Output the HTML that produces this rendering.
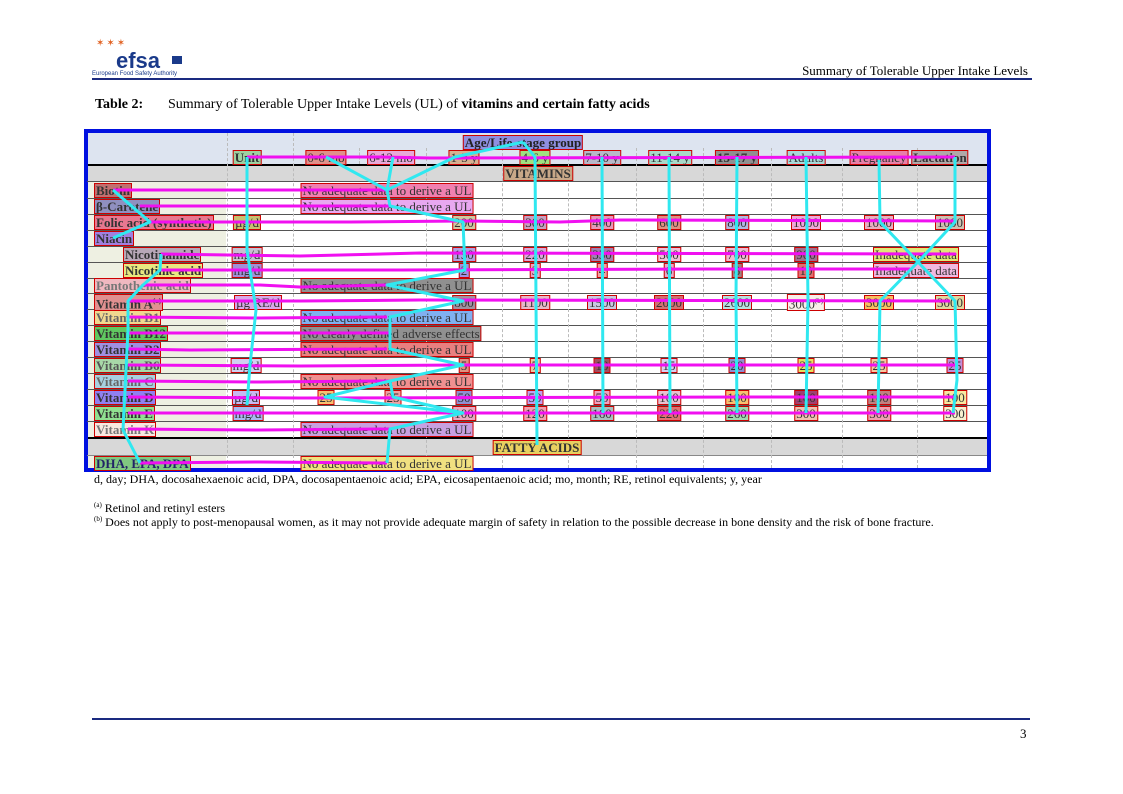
<!DOCTYPE html>
<html><head><meta charset="utf-8">
<style>
body{margin:0;width:1123px;height:794px;position:relative;background:#fff;font-family:"Liberation Serif",serif;overflow:hidden}
.a{position:absolute}
.b{position:absolute;border:1px solid #c00;font-size:13px;line-height:13px;padding:0 1px;white-space:nowrap;color:#333;transform:translateX(-50%)}
.n{position:absolute;border:1px solid #c00;font-size:13px;line-height:13px;padding:0 1px;white-space:nowrap;font-weight:bold;color:#333}
.h{position:absolute;left:87px;width:900px;height:1px;background:#555}
.v{position:absolute;top:133px;height:335px;border-left:1px dashed #bbb}
</style></head><body>
<!-- header -->
<div class="a" style="left:92px;top:38px;width:90px;height:40px">
 <div class="a" style="left:4px;top:0;color:#e06020;font-size:10px;letter-spacing:2px">✶✶✶</div>
 <div class="a" style="left:24px;top:10px;color:#1a3a8a;font:bold 22px 'Liberation Sans',sans-serif">efsa</div>
 <div class="a" style="left:80px;top:18px;width:10px;height:8px;background:#1a3a8a"></div>
 <div class="a" style="left:0;top:33px;font:6px 'Liberation Sans',sans-serif;color:#1a3a8a">European Food Safety Authority</div>
</div>
<div class="a" style="left:92px;top:78px;width:940px;height:2px;background:#1a2a80"></div>
<div class="a" style="right:95px;top:63px;font-size:13px">Summary of Tolerable Upper Intake Levels</div>
<div class="a" style="left:95px;top:97px;font-size:14px"><b>Table 2:</b></div>
<div class="a" style="left:168px;top:97px;font-size:14px">Summary of Tolerable Upper Intake Levels (UL) of <b>vitamins and certain fatty acids</b></div>

<!-- table -->
<div class="a" style="left:84px;top:129px;width:899px;height:335px;border:4px solid #0010e0"></div>
<div class="a" style="left:88px;top:133px;width:899px;height:31px;background:#dde4f0"></div>
<div class="a" style="left:88px;top:164px;width:899px;height:2px;background:#000"></div>
<div class="a" style="left:88px;top:166px;width:899px;height:15px;background:#d8d8d8"></div>
<div class="a" style="left:88px;top:181px;width:138px;height:257px;background:#eef0e2"></div>
<div class="a" style="left:88px;top:455px;width:138px;height:13px;background:#eef0e2"></div>
<div class="a" style="left:88px;top:438px;width:899px;height:17px;background:#d8d8d8"></div>
<div class="a" style="left:88px;top:437px;width:899px;height:2px;background:#000"></div>
<div class="h" style="top:181px"></div><div class="h" style="top:198px"></div><div class="h" style="top:214px"></div><div class="h" style="top:230px"></div><div class="h" style="top:246px"></div><div class="h" style="top:262px"></div><div class="h" style="top:278px"></div><div class="h" style="top:293px"></div><div class="h" style="top:309px"></div><div class="h" style="top:325px"></div><div class="h" style="top:341px"></div><div class="h" style="top:357px"></div><div class="h" style="top:373px"></div><div class="h" style="top:389px"></div><div class="h" style="top:405px"></div><div class="h" style="top:421px"></div><div class="h" style="top:455px;background:#888"></div>
<div class="v" style="left:227px"></div><div class="v" style="left:293px"></div><div class="v" style="left:359px;top:148px;height:16px"></div><div class="v" style="left:426px;top:148px;height:320px"></div><div class="v" style="left:502px;top:148px;height:320px"></div><div class="v" style="left:568px;top:148px;height:320px"></div><div class="v" style="left:636px;top:148px;height:320px"></div><div class="v" style="left:703px;top:148px;height:320px"></div><div class="v" style="left:771px;top:148px;height:320px"></div><div class="v" style="left:842px;top:148px;height:320px"></div><div class="v" style="left:917px;top:148px;height:320px"></div>

<!-- header labels -->
<div class="b" style="left:523px;top:135px;background:#8f8fe0;font-weight:bold;color:#222">Age/Life-stage group</div>
<div class="b" style="left:247px;top:150px;background:#9ed0a0;font-weight:bold">Unit</div>
<div class="b" style="left:326px;top:150px;background:#e0908a">0-6 mo</div>
<div class="b" style="left:391px;top:150px;background:#e8a8d8">6-12 mo</div>
<div class="b" style="left:464px;top:150px;background:#d8b090">1-3 y</div>
<div class="b" style="left:535px;top:150px;background:#a0e080">4-6 y</div>
<div class="b" style="left:602px;top:150px;background:#b8b8c8">7-10 y</div>
<div class="b" style="left:670px;top:150px;background:#a8d8c8">11-14 y</div>
<div class="b" style="left:737px;top:150px;background:#909090;font-weight:bold">15-17 y</div>
<div class="b" style="left:806px;top:150px;background:#a8d8d8">Adults</div>
<div class="b" style="left:879px;top:150px;background:#e880a8">Pregnancy</div>
<div class="b" style="left:940px;top:150px;background:#b0a8a8;font-weight:bold">Lactation</div>
<div class="b" style="left:538px;top:166px;background:#c8a888;font-weight:bold">VITAMINS</div>
<div class="b" style="left:537px;top:440px;background:#e8d060;font-weight:bold">FATTY ACIDS</div>

<!-- names -->
<div class="n" style="left:94px;top:183px;background:#c07070">Biotin</div>
<div class="n" style="left:94px;top:199px;background:#9090c0">β-Carotene</div>
<div class="n" style="left:94px;top:215px;background:#e87890">Folic acid (synthetic)</div>
<div class="n" style="left:94px;top:231px;background:#a080e0">Niacin</div>
<div class="n" style="left:123px;top:247px;background:#b8a8b8">Nicotinamide</div>
<div class="n" style="left:123px;top:263px;background:#e8e880">Nicotinic acid</div>
<div class="n" style="left:94px;top:278px;background:#f0b8c0;color:#777">Pantothenic acid</div>
<div class="n" style="left:94px;top:294px;background:#e09090">Vitamin A<sup style="font-size:7px">(a)</sup></div>
<div class="n" style="left:94px;top:310px;background:#f0d890;color:#666">Vitamin B1</div>
<div class="n" style="left:94px;top:326px;background:#60c860">Vitamin B12</div>
<div class="n" style="left:94px;top:342px;background:#a090e0">Vitamin B2</div>
<div class="n" style="left:94px;top:358px;background:#a8d8a8;color:#555">Vitamin B6</div>
<div class="n" style="left:94px;top:374px;background:#a8d0e0;color:#666">Vitamin C</div>
<div class="n" style="left:94px;top:390px;background:#9080f0">Vitamin D</div>
<div class="n" style="left:94px;top:406px;background:#90e090">Vitamin E</div>
<div class="n" style="left:94px;top:422px;background:#f8e8e0;color:#777">Vitamin K</div>
<div class="n" style="left:94px;top:456px;background:#80c880;color:#226">DHA, EPA, DPA</div>

<!-- no adequate boxes -->
<div class="b" style="left:387px;top:183px;background:#f080b0">No adequate data to derive a UL</div>
<div class="b" style="left:387px;top:199px;background:#e8a8f0">No adequate data to derive a UL</div>
<div class="b" style="left:387px;top:278px;background:#909090">No adequate data to derive a UL</div>
<div class="b" style="left:387px;top:310px;background:#80b0f0">No adequate data to derive a UL</div>
<div class="b" style="left:391px;top:326px;background:#909090">No clearly defined adverse effects</div>
<div class="b" style="left:387px;top:342px;background:#e88080">No adequate data to derive a UL</div>
<div class="b" style="left:387px;top:374px;background:#f09090">No adequate data to derive a UL</div>
<div class="b" style="left:387px;top:422px;background:#c8a0e0">No adequate data to derive a UL</div>
<div class="b" style="left:387px;top:456px;background:#f0e080">No adequate data to derive a UL</div>

<!-- units -->
<div class="b" style="left:247px;top:215px;background:#c8c070">µg/d</div>
<div class="b" style="left:247px;top:247px;background:#c8c0d0">mg/d</div>
<div class="b" style="left:247px;top:263px;background:#a090d8">mg/d</div>
<div class="b" style="left:258px;top:295px;background:#d8a8e8">µg RE/d</div>
<div class="b" style="left:246px;top:358px;background:#d0d0f0">mg/d</div>
<div class="b" style="left:246px;top:390px;background:#c8b8f0">µg/d</div>
<div class="b" style="left:248px;top:406px;background:#a8b8f0">mg/d</div>

<!-- values -->
<div class="b" style="left:464px;top:215px;background:#d0c8a0">200</div><div class="b" style="left:535px;top:215px;background:#c8a0c0">300</div><div class="b" style="left:602px;top:215px;background:#e898b8">400</div><div class="b" style="left:669px;top:215px;background:#e09080">600</div><div class="b" style="left:737px;top:215px;background:#b0b8e0">800</div><div class="b" style="left:806px;top:215px;background:#f0a8d8">1000</div><div class="b" style="left:879px;top:215px;background:#e8b0c0">1000</div><div class="b" style="left:950px;top:215px;background:#d0c0b0">1000</div>
<div class="b" style="left:464px;top:247px;background:#b0a0e0">150</div><div class="b" style="left:535px;top:247px;background:#d8a8d8">220</div><div class="b" style="left:602px;top:247px;background:#a080b0">350</div><div class="b" style="left:669px;top:247px;background:#f0c0d8">500</div><div class="b" style="left:737px;top:247px;background:#f0b8d0">700</div><div class="b" style="left:806px;top:247px;background:#a07090">900</div><div class="b" style="left:916px;top:247px;background:#e0e878">Inadequate data</div>
<div class="b" style="left:464px;top:263px;background:#a090e0">2</div><div class="b" style="left:535px;top:263px;background:#f0a0c0">3</div><div class="b" style="left:602px;top:263px;background:#f0a0a0">4</div><div class="b" style="left:669px;top:263px;background:#e8a8c8">6</div><div class="b" style="left:737px;top:263px;background:#a08080">8</div><div class="b" style="left:806px;top:263px;background:#e07070">10</div><div class="b" style="left:916px;top:263px;background:#f0b8e0">Inadequate data</div>
<div class="b" style="left:464px;top:295px;background:#a090a0">800</div><div class="b" style="left:535px;top:295px;background:#e8b8c8">1100</div><div class="b" style="left:602px;top:295px;background:#c8c8e0">1500</div><div class="b" style="left:669px;top:295px;background:#d07070">2000</div><div class="b" style="left:737px;top:295px;background:#b8e0e0">2600</div><div class="b" style="left:806px;top:294px;background:#f8f0e8">3000<sup style="font-size:7px">(b)</sup></div><div class="b" style="left:879px;top:295px;background:#f8c060">3000</div><div class="b" style="left:950px;top:295px;background:#e0d8a0">3000</div>
<div class="b" style="left:464px;top:358px;background:#e09080">5</div><div class="b" style="left:535px;top:358px;background:#f0c8a0">7</div><div class="b" style="left:602px;top:358px;background:#a05060">10</div><div class="b" style="left:669px;top:358px;background:#d8d0f0">15</div><div class="b" style="left:737px;top:358px;background:#9090d0">20</div><div class="b" style="left:806px;top:358px;background:#e8e060">25</div><div class="b" style="left:879px;top:358px;background:#f8c8a0">25</div><div class="b" style="left:955px;top:358px;background:#c090d8">25</div>
<div class="b" style="left:326px;top:390px;background:#f8c070">25</div><div class="b" style="left:393px;top:390px;background:#f0a0a0">25</div><div class="b" style="left:464px;top:390px;background:#9090d0">50</div><div class="b" style="left:535px;top:390px;background:#c0a0f0">50</div><div class="b" style="left:602px;top:390px;background:#f0a0c0">50</div><div class="b" style="left:669px;top:390px;background:#e8c0d0">100</div><div class="b" style="left:737px;top:390px;background:#f8c070">100</div><div class="b" style="left:806px;top:390px;background:#a04070">100</div><div class="b" style="left:879px;top:390px;background:#c08080">100</div><div class="b" style="left:955px;top:390px;background:#f8e8a0">100</div>
<div class="b" style="left:464px;top:406px;background:#e8a8c0">100</div><div class="b" style="left:535px;top:406px;background:#f0a0b0">120</div><div class="b" style="left:602px;top:406px;background:#a8c0c0">160</div><div class="b" style="left:669px;top:406px;background:#e07070">220</div><div class="b" style="left:737px;top:406px;background:#a0d8b0">260</div><div class="b" style="left:806px;top:406px;background:#f0c0b0">300</div><div class="b" style="left:879px;top:406px;background:#f0a0b0">300</div><div class="b" style="left:955px;top:406px;background:#f8f0d0">300</div>

<!-- overlay lines -->
<svg class="a" style="left:0;top:0" width="1123" height="794" fill="none" stroke-linejoin="round">
<g stroke="#f010f0" stroke-width="3">
<polyline points="247,157 380,157 430,158 955,157"/>
<polyline points="113,190 390,190"/>
<polyline points="140,206 390,206"/>
<polyline points="150,222 350,222 463,221 560,222 620,220 955,221"/>
<polyline points="161,254 300,256 420,253 955,254 920,254"/>
<polyline points="161,270 400,270 700,269 910,269"/>
<polyline points="143,285 260,285 300,287 387,285"/>
<polyline points="128,301 300,301 420,300 950,301"/>
<polyline points="128,317 260,318 387,317"/>
<polyline points="128,333 390,333"/>
<polyline points="128,349 190,350 387,349"/>
<polyline points="128,365 300,366 463,365 955,365"/>
<polyline points="128,381 260,382 390,381"/>
<polyline points="128,397 300,398 750,397 955,397"/>
<polyline points="128,413 300,413 955,413"/>
<polyline points="128,429 260,430 390,429"/>
<polyline points="140,463 260,462 387,463"/>
</g>
<g stroke="#30e8f0" stroke-width="3">
<polyline points="523,142 455,157 387,190 326,157"/>
<polyline points="393,157 387,190 390,206 463,222 465,270 387,285 463,301 390,317 390,333 390,349 463,365 390,381 325,397 463,413 390,429 387,463"/>
<polyline points="390,381 393,397 463,413"/>
<polyline points="523,142 535,157 537,445"/>
<polyline points="602,157 603,413"/>
<polyline points="669,157 670,413"/>
<polyline points="737,157 736,300 737,413"/>
<polyline points="806,157 808,300 806,413"/>
<polyline points="879,160 880,222 918,262 880,301 878,413"/>
<polyline points="955,157 955,222 918,262 955,301 957,380 953,413"/>
<polyline points="247,157 247,250 250,270 256,310 250,365 247,405"/>
<polyline points="113,190 150,222 113,238"/>
<polyline points="161,254 160,270 143,285 128,301 128,330 123,430 140,463"/>
</g>
</svg>

<!-- footnotes -->
<div class="a" style="left:94px;top:472px;font-size:12px">d, day; DHA, docosahexaenoic acid, DPA, docosapentaenoic acid; EPA, eicosapentaenoic acid; mo, month; RE, retinol equivalents; y, year</div>
<div class="a" style="left:94px;top:501px;font-size:12px"><sup style="font-size:7px">(a)</sup> Retinol and retinyl esters</div>
<div class="a" style="left:94px;top:515px;font-size:12px"><sup style="font-size:7px">(b)</sup> Does not apply to post-menopausal women, as it may not provide adequate margin of safety in relation to the possible decrease in bone density and the risk of bone fracture.</div>

<div class="a" style="left:92px;top:718px;width:938px;height:2px;background:#1a2a80"></div>
<div class="a" style="left:1020px;top:726px;font-size:13px">3</div>
</body></html>
